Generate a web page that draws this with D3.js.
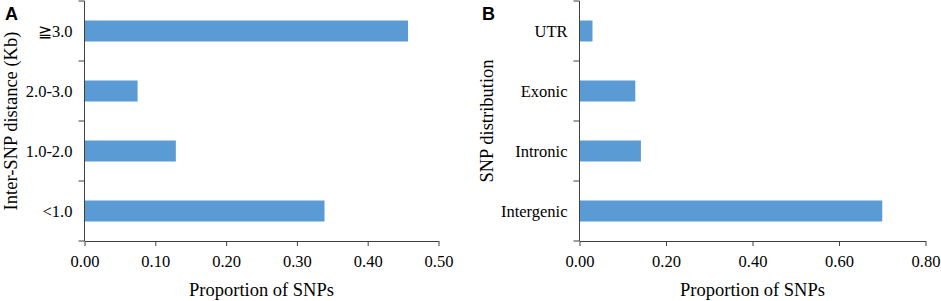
<!DOCTYPE html>
<html>
<head>
<meta charset="utf-8">
<script src="https://cdn.jsdelivr.net/npm/d3@7"></script>
<style>
  body { margin: 0; background: #fff; }
  svg { display: block; }
</style>
</head>
<body>
<svg id="chart" width="941" height="301"></svg>
<script>
// panel A: inter-SNP distance
var distCategories = ["≧3.0", "2.0-3.0", "1.0-2.0", "<1.0"],
    distValues = [0.457, 0.075, 0.129, 0.339],
    distTicks = [0, 0.1, 0.2, 0.3, 0.4, 0.5];

// panel B: SNP distribution
var regionCategories = ["UTR", "Exonic", "Intronic", "Intergenic"],
    regionValues = [0.030, 0.129, 0.142, 0.700],
    regionTicks = [0, 0.2, 0.4, 0.6, 0.8];

var barColor = "#5b9bd5",
    axisColor = "#404040",
    serif = "'Liberation Serif', 'Times New Roman', serif";

var svg = d3.select("#chart");

function drawPanel(opts) {
    var g = svg.append("g");

    var x = d3.scaleLinear()
        .domain([0, opts.ticks[opts.ticks.length - 1]])
        .range([opts.left, opts.right]);

    var y = d3.scaleBand()
        .domain(opts.categories)
        .range([1, 241])
        .paddingInner(0.65)
        .paddingOuter(0.325);

    g.selectAll("rect")
        .data(opts.values)
        .enter()
        .append("rect")
        .attr("x", x(0))
        .attr("y", function(d, i) { return y(opts.categories[i]); })
        .attr("width", function(d) { return x(d) - x(0); })
        .attr("height", y.bandwidth())
        .attr("fill", barColor);

    // y axis: ticks sit between the bands
    var step = y.step();
    var yAxis = g.append("g");
    yAxis.append("line")
        .attr("x1", x(0)).attr("x2", x(0))
        .attr("y1", 1).attr("y2", 241)
        .attr("stroke", axisColor);
    yAxis.selectAll("line.tk")
        .data(d3.range(opts.categories.length + 1))
        .enter()
        .append("line")
        .attr("class", "tk")
        .attr("x1", x(0) - 6).attr("x2", x(0))
        .attr("y1", function(i) { return 1 + i * step; })
        .attr("y2", function(i) { return 1 + i * step; })
        .attr("stroke", axisColor);
    yAxis.selectAll("text")
        .data(opts.categories)
        .enter()
        .append("text")
        .attr("x", x(0) - 12)
        .attr("y", function(d) { return y(d) + y.bandwidth() / 2; })
        .attr("dy", "0.35em")
        .attr("text-anchor", "end")
        .attr("font-family", serif)
        .attr("font-size", "16.5px")
        .attr("fill", "#000")
        .text(function(d) { return d; });

    // x axis
    var xAxis = g.append("g")
        .attr("transform", "translate(0,241)")
        .call(d3.axisBottom(x)
            .tickValues(opts.ticks)
            .tickFormat(d3.format(".2f"))
            .tickSize(5)
            .tickSizeOuter(0)
            .tickPadding(9));
    xAxis.select(".domain").attr("stroke", axisColor);
    xAxis.selectAll(".tick line").attr("stroke", axisColor);
    xAxis.selectAll("text")
        .attr("font-family", serif)
        .attr("font-size", "16.5px")
        .attr("fill", "#000");

    g.append("text")
        .attr("x", (opts.left + opts.right) / 2)
        .attr("y", 296)
        .attr("text-anchor", "middle")
        .attr("font-family", serif)
        .attr("font-size", "18.5px")
        .text("Proportion of SNPs");

    g.append("text")
        .attr("transform", "translate(" + opts.titleX + ",121) rotate(-90)")
        .attr("text-anchor", "middle")
        .attr("dy", "0.35em")
        .attr("font-family", serif)
        .attr("font-size", "18.5px")
        .text(opts.title);

    g.append("text")
        .attr("x", opts.letterX)
        .attr("y", 19.5)
        .attr("font-family", "'Liberation Sans', Arial, sans-serif")
        .attr("font-weight", "bold")
        .attr("font-size", "18px")
        .text(opts.letter);
}

drawPanel({
    categories: distCategories, values: distValues, ticks: distTicks,
    left: 84.5, right: 438.5, title: "Inter-SNP distance (Kb)",
    titleX: 11, letter: "A", letterX: 5
});

drawPanel({
    categories: regionCategories, values: regionValues, ticks: regionTicks,
    left: 579.5, right: 925.5, title: "SNP distribution",
    titleX: 487, letter: "B", letterX: 482
});
</script>
</body>
</html>
